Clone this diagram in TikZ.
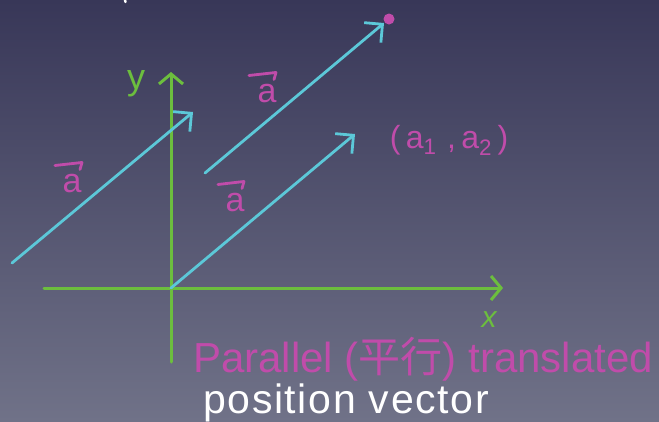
\documentclass[tikz,border=0pt]{standalone}
\usepackage{fontspec}
\setmainfont{Liberation Sans}
\newfontfamily\cjk{Noto Sans CJK SC}
\newfontfamily\spacedfont[LetterSpace=4]{Liberation Sans}
\usetikzlibrary{arrows.meta}
\definecolor{axgreen}{RGB}{108,190,62}
\definecolor{veccyan}{RGB}{92,200,216}
\definecolor{mag}{RGB}{192,76,170}
\definecolor{bgtop}{RGB}{56,55,88}
\definecolor{bgbot}{RGB}{112,114,136}
\tikzset{
  axis/.style={draw=axgreen, line width=3pt, line cap=round, -{Straight Barb[length=10pt,width=24pt,line width=3pt]}},
  vecline/.style={draw=veccyan, line width=2.8pt, line cap=round, -{Straight Barb[length=13pt,width=26pt,line width=2.8pt]}},
  vlab/.style={text=mag, font=\fontsize{34}{34}\selectfont, inner sep=0pt},
  vbar/.style={draw=mag, line width=2.8pt, line cap=round, line join=round},
  axlab/.style={text=axgreen, font=\fontsize{36}{36}\selectfont, inner sep=0pt},
}
\begin{document}
\begin{tikzpicture}[x=1pt,y=-1pt]
\useasboundingbox (0,0) rectangle (659,421);
\shade[top color=bgtop, bottom color=bgbot] (0,0) rectangle (659,421);
% fragment at top
\draw[white, line width=2.5pt, line cap=round] (125,0) -- (125.5,2);
% axes
\coordinate (O) at (171,288);
\coordinate (xl) at (44,288);
\coordinate (xr) at (503,288);
\coordinate (yb) at (171,362);
\coordinate (yt) at (171,72);
\draw[axis] (xl) -- (xr);
\draw[axis] (yb) -- (yt);
\node[axlab] (ylab) at (136,84) {y};
\node[axlab, font=\fontsize{30}{30}\selectfont\itshape] (xlab) at (489,320) {x};
% vectors
\coordinate (p1s) at (12,263);
\coordinate (p1e) at (193,112);
\coordinate (p2s) at (205,173);
\coordinate (p2e) at (384,23);
\coordinate (p3e) at (355,134);
\draw[vecline] (p1s) -- (p1e);
\draw[vecline] (p2s) -- (p2e);
\draw[vecline] (O) -- (p3e);
\node[circle, fill=mag, inner sep=0pt, minimum size=11pt] (dot) at (389,19) {};
% vector labels
\node[vlab] (la1) at (72,184) {a};
\draw[vbar] ([shift={(-17,-9)}]la1.north) -- ([shift={(10,-12)}]la1.north) -- ([shift={(8,-5)}]la1.north);
\node[vlab] (la2) at (267,94) {a};
\draw[vbar] ([shift={(-18,-9)}]la2.north) -- ([shift={(9,-12)}]la2.north) -- ([shift={(7,-5)}]la2.north);
\node[vlab] (la3) at (235,203) {a};
\draw[vbar] ([shift={(-17,-9)}]la3.north) -- ([shift={(9,-12)}]la3.north) -- ([shift={(7,-5)}]la3.north);
% point label
\node[text=mag, font=\fontsize{32}{32}\selectfont, inner sep=0pt] (pt) at (449,140) {(\,a\textsubscript{1}\,\,,\,a\textsubscript{2}\,)};
% captions
\node[text=mag, font=\fontsize{42}{42}\selectfont, inner sep=0pt, anchor=base west] (cap1) at (193,372) {Parallel ({\cjk 平行}) translated};
\node[text=white, font=\spacedfont\fontsize{41}{41}\selectfont, inner sep=0pt, anchor=base west] (cap2) at (203,413) {position vector};
\end{tikzpicture}
\end{document}
